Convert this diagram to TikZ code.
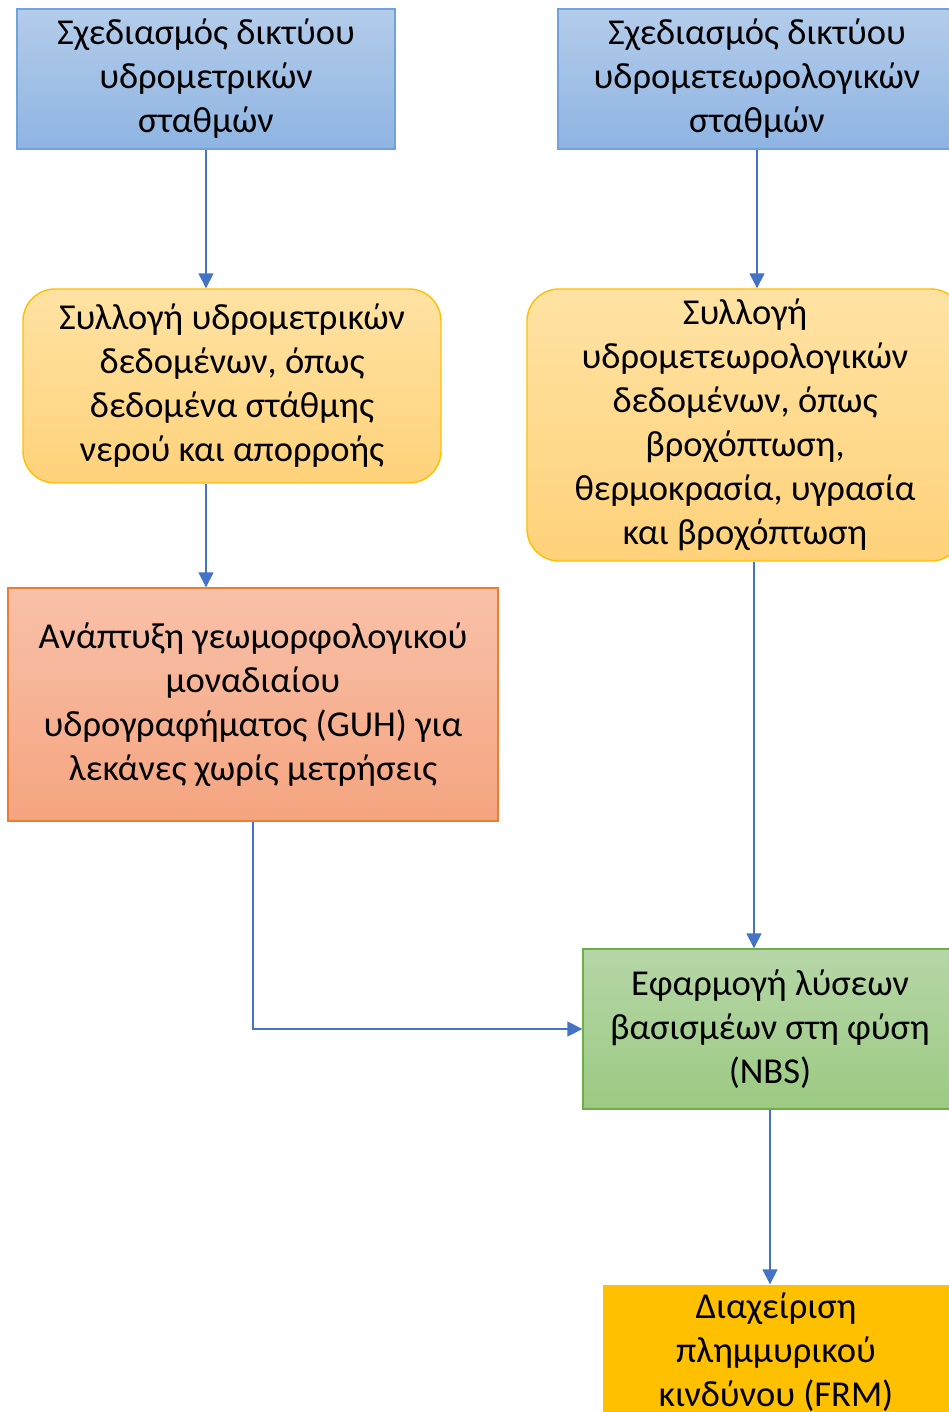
\documentclass[tikz,border=0pt]{standalone}
\usepackage{fontspec}
\setmainfont{Carlito}
\usetikzlibrary{arrows.meta,calc}

\definecolor{arrowblue}{HTML}{4472C4}
\definecolor{blueline}{HTML}{6FA3DB}
\definecolor{bluetop}{HTML}{B3CCEA}
\definecolor{bluebot}{HTML}{8FB4E2}
\definecolor{goldline}{HTML}{FFC000}
\definecolor{goldtop}{HTML}{FFE2A3}
\definecolor{goldbot}{HTML}{FFD27A}
\definecolor{orangeline}{HTML}{ED7D31}
\definecolor{orangetop}{HTML}{F8C1A9}
\definecolor{orangebot}{HTML}{F5A47F}
\definecolor{greenline}{HTML}{70AD47}
\definecolor{greentop}{HTML}{B6D6A7}
\definecolor{greenbot}{HTML}{9BCA82}
\definecolor{solidgold}{HTML}{FFC000}

\tikzset{
  x=1pt, y=-1pt,
  boxbase/.style={inner sep=0pt, align=center, line width=1.4pt,
    font=\fontsize{36.5}{44}\selectfont},
  bluebox/.style={boxbase, draw=blueline, top color=bluetop, bottom color=bluebot},
  goldbox/.style={boxbase, draw=goldline, rounded corners=32pt,
    top color=goldtop, bottom color=goldbot},
  orangebox/.style={boxbase, draw=orangeline, top color=orangetop, bottom color=orangebot},
  greenbox/.style={boxbase, draw=greenline, top color=greentop, bottom color=greenbot},
  frmbox/.style={boxbase, fill=solidgold},
  flow/.style={draw=arrowblue, line width=1.5pt,
    -{Triangle[length=15pt,width=15pt]}},
}

\begin{document}
\begin{tikzpicture}
\useasboundingbox (0,0) rectangle (949,1412);
\clip (0,0) rectangle (949,1412);
\fill[white] (0,0) rectangle (949,1412);

% left column
\node[bluebox, minimum width=378pt, minimum height=140pt] (b1) at (206,79)
  {Σχεδιασμός δικτύου\\υδρομετρικών\\σταθμών};
\node[goldbox, minimum width=418pt, minimum height=194pt] (b3) at (232,386)
  {Συλλογή υδρομετρικών\\δεδομένων, όπως\\δεδομένα στάθμης\\νερού και απορροής};
\node[orangebox, minimum width=490pt, minimum height=233pt] (b5) at (253,704.5)
  {Ανάπτυξη γεωμορφολογικού\\μοναδιαίου\\υδρογραφήματος (GUH) για\\λεκάνες χωρίς μετρήσεις};

% right column
\node[bluebox, minimum width=398pt, minimum height=140pt] (b2) at (757,79)
  {Σχεδιασμός δικτύου\\υδρομετεωρολογικών\\σταθμών};
\node[goldbox, minimum width=436pt, minimum height=272pt] (b4) at (745,425)
  {Συλλογή\\υδρομετεωρολογικών\\δεδομένων, όπως\\βροχόπτωση,\\θερμοκρασία, υγρασία\\και βροχόπτωση};
\node[greenbox, minimum width=374pt, minimum height=160pt] (b6) at (770,1029)
  {Εφαρμογή λύσεων\\βασισμέων στη φύση\\(NBS)};
\node[frmbox, minimum width=346pt, minimum height=134pt] (b7) at (776,1352)
  {Διαχείριση\\πλημμυρικού\\κινδύνου (FRM)};

% connectors
\draw[flow] (b1.south) -- (b1.south |- b3.north);
\draw[flow] (b1.south |- b3.south) -- (b1.south |- b5.north);
\draw[flow] (b2.south) -- (b2.south |- b4.north);
\draw[flow] ([xshift=9pt]b4.south) -- ([xshift=9pt]b4.south |- b6.north);
\draw[flow] (b5.south) |- (b6.west);
\draw[flow] (b6.south) -- (b6.south |- b7.north);
\end{tikzpicture}
\end{document}
